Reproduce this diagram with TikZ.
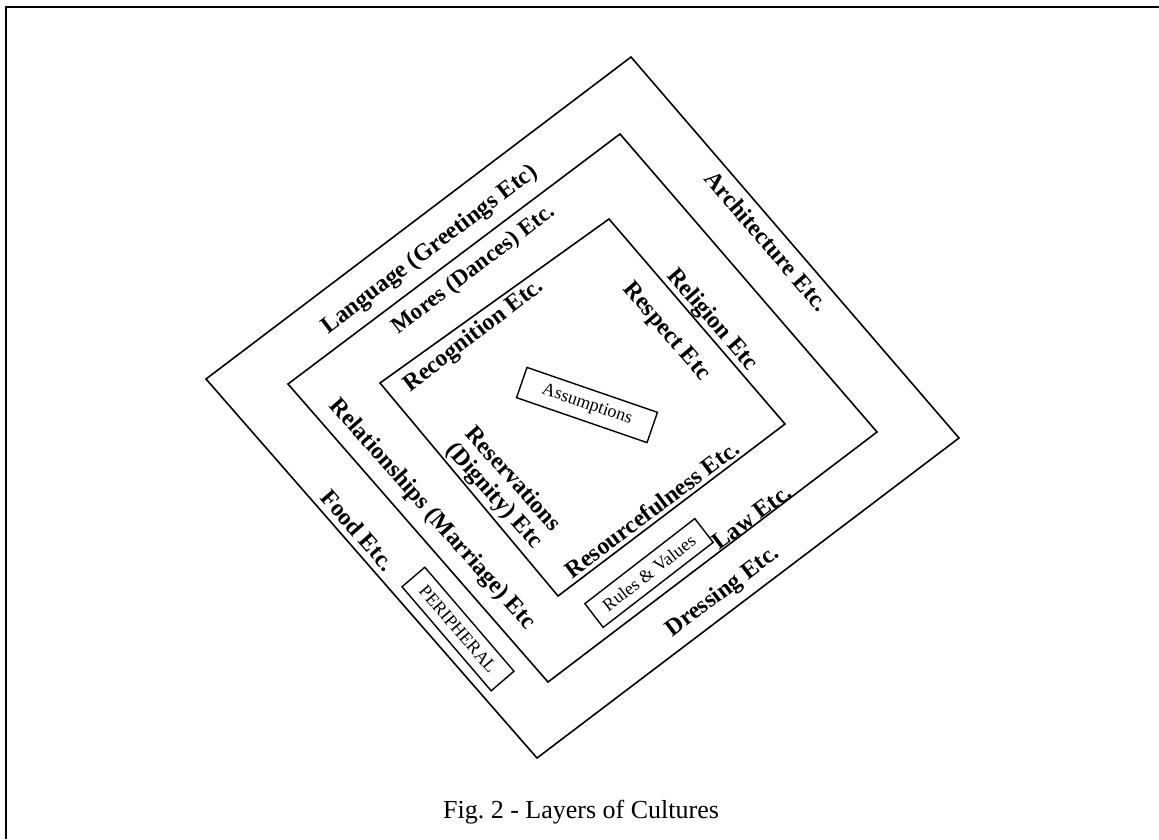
\documentclass[tikz,border=0pt]{standalone}
\usepackage{fontspec}
\setmainfont{Liberation Serif}
\frenchspacing
\begin{document}
\begin{tikzpicture}[x=1pt,y=-1pt,
  edge/.style={line width=1.6pt,line join=miter},
  lbl/.style={font=\bfseries\fontsize{24}{25}\selectfont,inner sep=0pt},
  tag/.style={draw,line width=1.4pt,inner sep=0pt,font=\fontsize{18}{19}\selectfont},
  capt/.style={font=\fontsize{26}{28}\selectfont,inner sep=0pt}]
\useasboundingbox (0,0) rectangle (1159,839);
% frame
\coordinate (fbl) at (6,839);
\coordinate (ftl) at (6,7);
\coordinate (ftr) at (1159,7);
\draw[line width=2pt] (fbl) -- (ftl) -- (ftr);
% outer layer
\coordinate (oL) at (206,379);
\coordinate (oT) at (631,57);
\coordinate (oR) at (959,438);
\coordinate (oB) at (537,758);
\draw[edge] (oL) -- (oT) -- (oR) -- (oB) -- cycle;
% middle layer
\coordinate (mL) at (288,384);
\coordinate (mT) at (620,134);
\coordinate (mR) at (877,432);
\coordinate (mB) at (548,682);
\draw[edge] (mL) -- (mT) -- (mR) -- (mB) -- cycle;
% inner layer
\coordinate (iL) at (380,383);
\coordinate (iT) at (609,219);
\coordinate (iR) at (785,424);
\coordinate (iB) at (558,596);
\draw[edge] (iL) -- (iT) -- (iR) -- (iB) -- cycle;
% labels
\node[lbl,rotate=37.2] (lang) at (430,250) {Language (Greetings Etc)};
\node[lbl,rotate=-49.3] (arch) at (767,241) {Architecture Etc.};
\node[lbl,rotate=37.5,font=\bfseries\fontsize{23}{24}\selectfont] (mores) at (474,270) {Mores (Dances) Etc.};
\node[lbl,rotate=-49.2] (relig) at (712,320) {Religion Etc};
\node[lbl,rotate=37.5] (recog) at (474,336) {Recognition Etc.};
\node[lbl,rotate=-49.4] (resp) at (666,332) {Respect Etc};
\node[lbl,rotate=-48.3,align=center] (reserv) at (503,488) {Reservations\\(Dignity) Etc};
\node[lbl,rotate=37] (resour) at (652,509) {Resourcefulness Etc.};
\node[lbl,rotate=-48.5] (relat) at (432,515) {Relationships (Marriage) Etc};
\node[lbl,rotate=-49] (food) at (358,530) {Food Etc.};
\node[lbl,rotate=37] (law) at (752,517) {Law Etc.};
\node[lbl,rotate=37] (dress) at (723,592) {Dressing Etc.};
% boxed tags
\node[tag,rotate=-19,minimum width=138pt,minimum height=32pt] (assum) at (587,405) {Assumptions};
\node[tag,rotate=-49.4,minimum width=137pt,minimum height=30pt] (periph) at (458,629) {PERIPHERAL};
\node[tag,rotate=37.7,minimum width=139pt,minimum height=30pt] (rules) at (649,573) {Rules \& Values};
% caption
\node[capt] (cap) at (581,812) {Fig. 2 - Layers of Cultures};
\end{tikzpicture}
\end{document}
